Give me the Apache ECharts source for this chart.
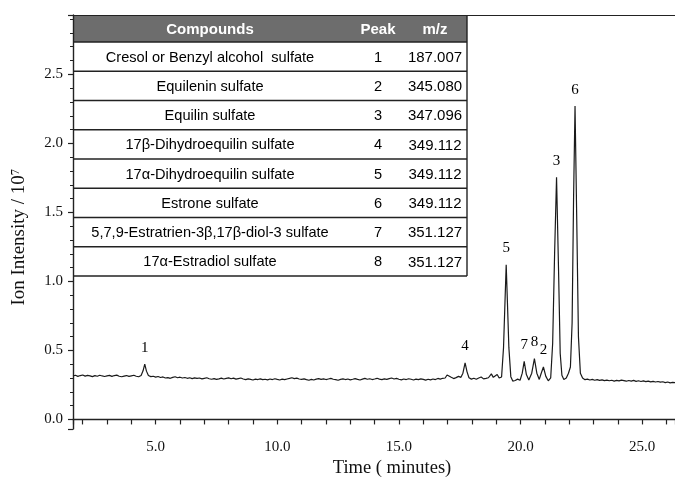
<!DOCTYPE html>
<html>
<head>
<meta charset="utf-8">
<script src="https://cdn.jsdelivr.net/npm/echarts@6/dist/echarts.min.js"></script>
<style>
  html, body { margin: 0; padding: 0; background: #fff; }
  #chart { width: 675px; height: 483px; }
</style>
</head>
<body>
<div id="chart"></div>
<script>
// table contents
const compounds = [
  'Cresol or Benzyl alcohol  sulfate',
  'Equilenin sulfate',
  'Equilin sulfate',
  '17β-Dihydroequilin sulfate',
  '17α-Dihydroequilin sulfate',
  'Estrone sulfate',
  '5,7,9-Estratrien-3β,17β-diol-3 sulfate',
  '17α-Estradiol sulfate'
]
const peakNos = ['1', '2', '3', '4', '5', '6', '7', '8']
const mzValues = ['187.007', '345.080', '347.096', '349.112', '349.112', '349.112', '351.127', '351.127']

// peak annotations (time, apex intensity)
const peakLabels = ['1', '4', '5', '7', '8', '2', '3', '6']
const peakTimes = [4.55, 17.72, 19.41, 20.15, 20.57, 20.94, 21.48, 22.24]
const peakHeights = [0.40, 0.41, 1.12, 0.42, 0.44, 0.38, 1.755, 2.27]

// chromatogram trace [time (min), intensity / 1e7]
const trace = [
  [1.6, 0.315], [1.7, 0.320], [1.8, 0.312], [1.9, 0.318], [2.0, 0.322], [2.1, 0.314], [2.2, 0.319],
  [2.3, 0.316], [2.4, 0.310], [2.5, 0.317], [2.6, 0.313], [2.7, 0.320], [2.8, 0.315], [2.9, 0.311],
  [3.0, 0.316], [3.1, 0.319], [3.2, 0.312], [3.3, 0.318], [3.4, 0.321], [3.5, 0.313], [3.6, 0.309],
  [3.7, 0.314], [3.8, 0.318], [3.9, 0.312], [4.0, 0.316], [4.1, 0.320], [4.2, 0.313], [4.3, 0.309],
  [4.4, 0.318], [4.48, 0.352], [4.55, 0.400], [4.62, 0.350], [4.7, 0.318], [4.8, 0.310], [4.9, 0.313],
  [5.0, 0.307], [5.1, 0.311], [5.2, 0.304], [5.3, 0.308], [5.4, 0.300], [5.5, 0.303], [5.6, 0.298],
  [5.7, 0.305], [5.8, 0.309], [5.9, 0.302], [6.0, 0.306], [6.1, 0.300], [6.2, 0.304], [6.3, 0.298],
  [6.4, 0.302], [6.5, 0.296], [6.6, 0.301], [6.7, 0.297], [6.8, 0.300], [6.9, 0.294], [7.0, 0.298],
  [7.1, 0.302], [7.2, 0.295], [7.3, 0.291], [7.4, 0.296], [7.5, 0.290], [7.6, 0.294], [7.7, 0.299],
  [7.8, 0.293], [7.9, 0.297], [8.0, 0.301], [8.1, 0.295], [8.2, 0.299], [8.3, 0.292], [8.4, 0.296],
  [8.5, 0.300], [8.6, 0.293], [8.7, 0.288], [8.8, 0.294], [8.9, 0.290], [9.0, 0.286], [9.1, 0.292],
  [9.2, 0.289], [9.3, 0.294], [9.4, 0.288], [9.5, 0.291], [9.6, 0.287], [9.7, 0.293], [9.8, 0.289],
  [9.9, 0.295], [10.0, 0.290], [10.1, 0.286], [10.2, 0.292], [10.3, 0.288], [10.4, 0.293], [10.5, 0.297],
  [10.6, 0.302], [10.7, 0.296], [10.8, 0.299], [10.9, 0.293], [11.0, 0.290], [11.1, 0.294], [11.2, 0.288],
  [11.3, 0.284], [11.4, 0.290], [11.5, 0.286], [11.6, 0.292], [11.7, 0.296], [11.8, 0.290], [11.9, 0.294],
  [12.0, 0.289], [12.1, 0.293], [12.2, 0.297], [12.3, 0.291], [12.4, 0.288], [12.5, 0.284], [12.6, 0.290],
  [12.7, 0.294], [12.8, 0.289], [12.9, 0.293], [13.0, 0.287], [13.1, 0.291], [13.2, 0.296], [13.3, 0.290],
  [13.4, 0.286], [13.5, 0.292], [13.6, 0.297], [13.7, 0.291], [13.8, 0.295], [13.9, 0.289], [14.0, 0.293],
  [14.1, 0.298], [14.2, 0.292], [14.3, 0.288], [14.4, 0.294], [14.5, 0.290], [14.6, 0.296], [14.7, 0.300],
  [14.8, 0.293], [14.9, 0.297], [15.0, 0.291], [15.1, 0.287], [15.2, 0.293], [15.3, 0.289], [15.4, 0.295],
  [15.5, 0.291], [15.6, 0.286], [15.7, 0.292], [15.8, 0.288], [15.9, 0.294], [16.0, 0.290], [16.1, 0.285],
  [16.2, 0.291], [16.3, 0.287], [16.4, 0.293], [16.5, 0.289], [16.6, 0.297], [16.7, 0.292], [16.8, 0.298],
  [16.9, 0.300], [16.98, 0.322], [17.05, 0.335], [17.15, 0.305], [17.25, 0.296], [17.35, 0.303], [17.45, 0.312],
  [17.55, 0.305], [17.63, 0.335], [17.72, 0.410], [17.8, 0.345], [17.88, 0.302], [17.98, 0.292], [18.08, 0.298],
  [18.18, 0.291], [18.28, 0.300], [18.38, 0.308], [18.48, 0.294], [18.58, 0.297], [18.68, 0.302], [18.8, 0.330],
  [18.88, 0.305], [18.95, 0.298], [19.04, 0.325], [19.12, 0.300], [19.22, 0.308], [19.3, 0.52], [19.36, 0.85],
  [19.41, 1.12], [19.46, 0.85], [19.52, 0.52], [19.6, 0.31], [19.68, 0.278], [19.78, 0.282], [19.88, 0.292],
  [19.98, 0.284], [20.07, 0.335], [20.15, 0.420], [20.24, 0.325], [20.34, 0.286], [20.46, 0.335], [20.57, 0.440],
  [20.67, 0.335], [20.77, 0.290], [20.85, 0.335], [20.94, 0.380], [21.04, 0.312], [21.14, 0.280], [21.24, 0.302],
  [21.32, 0.55], [21.4, 1.20], [21.48, 1.755], [21.56, 1.10], [21.63, 0.48], [21.7, 0.32], [21.78, 0.290],
  [21.88, 0.300], [21.97, 0.335], [22.05, 0.380], [22.12, 0.70], [22.18, 1.60], [22.24, 2.27], [22.31, 1.45],
  [22.38, 0.60], [22.46, 0.335], [22.55, 0.300], [22.65, 0.288], [22.75, 0.292], [22.85, 0.286], [22.95, 0.290],
  [23.05, 0.284], [23.15, 0.288], [23.25, 0.283], [23.35, 0.287], [23.45, 0.281], [23.55, 0.285], [23.65, 0.280],
  [23.75, 0.284], [23.85, 0.278], [23.95, 0.283], [24.05, 0.279], [24.15, 0.285], [24.25, 0.281], [24.35, 0.277],
  [24.45, 0.282], [24.55, 0.278], [24.65, 0.283], [24.75, 0.276], [24.85, 0.280], [24.95, 0.275], [25.05, 0.279],
  [25.15, 0.274], [25.25, 0.278], [25.35, 0.272], [25.45, 0.276], [25.55, 0.271], [25.65, 0.275], [25.75, 0.270],
  [25.85, 0.273], [25.95, 0.267], [26.05, 0.271], [26.15, 0.265], [26.25, 0.268], [26.35, 0.266]
]

const serif = '"Liberation Serif", "Times New Roman", serif'
const sans = '"Liberation Sans", Arial, sans-serif'

// table layout (pixels)
const tbl = { left: 73, top: 15, width: 394, headH: 27, rowH: 29.25, colC: 210, colP: 378, colM: 435 }

const buildTable = () => {
  const els = []
  const bottom = tbl.top + tbl.headH + tbl.rowH * compounds.length
  els.push({ type: 'rect', shape: { x: tbl.left, y: tbl.top, width: tbl.width, height: bottom - tbl.top }, style: { fill: '#fff' } })
  els.push({ type: 'rect', shape: { x: tbl.left, y: tbl.top, width: tbl.width, height: tbl.headH }, style: { fill: '#6d6d6d' } })
  const heads = [['Compounds', tbl.colC], ['Peak', tbl.colP], ['m/z', tbl.colM]]
  heads.forEach(([t, x]) => {
    els.push({ type: 'text', x, y: tbl.top + tbl.headH / 2 + 1, style: { text: t, fill: '#fff', font: 'bold 15px ' + sans, align: 'center', verticalAlign: 'middle' } })
  })
  compounds.forEach((c, i) => {
    const y0 = tbl.top + tbl.headH + tbl.rowH * i
    els.push({ type: 'line', shape: { x1: tbl.left, y1: y0, x2: tbl.left + tbl.width, y2: y0 }, style: { stroke: '#222', lineWidth: 1.6 } })
    const yc = y0 + tbl.rowH / 2 + 1
    els.push({ type: 'text', x: tbl.colC, y: yc, style: { text: c, fill: '#000', font: '14.6px ' + sans, align: 'center', verticalAlign: 'middle' } })
    els.push({ type: 'text', x: tbl.colP, y: yc, style: { text: peakNos[i], fill: '#000', font: '14.6px ' + sans, align: 'center', verticalAlign: 'middle' } })
    els.push({ type: 'text', x: tbl.colM, y: yc, style: { text: mzValues[i], fill: '#000', font: '15px ' + sans, align: 'center', verticalAlign: 'middle' } })
  })
  els.push({ type: 'line', shape: { x1: tbl.left, y1: bottom, x2: tbl.left + tbl.width, y2: bottom }, style: { stroke: '#222', lineWidth: 1.6 } })
  els.push({ type: 'line', shape: { x1: tbl.left + tbl.width, y1: tbl.top, x2: tbl.left + tbl.width, y2: bottom }, style: { stroke: '#222', lineWidth: 1.4 } })
  return els
}

const chart = echarts.init(document.getElementById('chart'), null, { renderer: 'canvas' })

const option = {
  backgroundColor: '#fff',
  animation: false,
  grid: { left: 73, right: 0, top: 15, bottom: 50 },
  xAxis: [{
    type: 'value',
    min: 1.6,
    max: 26.35,
    name: 'Time ( minutes)',
    nameLocation: 'middle',
    nameGap: 27,
    nameTextStyle: { fontFamily: serif, fontSize: 18.5, color: '#111', padding: [0, 0, 0, 36] },
    axisLine: { lineStyle: { color: '#222', width: 1.4 } },
    axisTick: { length: 5, lineStyle: { color: '#222', width: 1.2 } },
    minorTick: { show: true, splitNumber: 5, length: 5, lineStyle: { color: '#222', width: 1.2 } },
    splitLine: { show: false },
    axisLabel: {
      showMinLabel: false, showMaxLabel: false, margin: 10,
      fontFamily: serif, fontSize: 15, color: '#111',
      formatter: (v) => v.toFixed(1)
    }
  }, {
    type: 'value',
    position: 'top',
    min: 1.6,
    max: 26.35,
    axisLine: { show: true, lineStyle: { color: '#222', width: 1.2 } },
    axisTick: { show: false },
    axisLabel: { show: false },
    splitLine: { show: false }
  }],
  yAxis: {
    type: 'value',
    min: -0.07,
    max: 2.93,
    name: 'Ion Intensity / 10⁷',
    nameLocation: 'middle',
    nameGap: 44,
    nameTextStyle: { fontFamily: serif, fontSize: 19, color: '#111', padding: [0, 30, 0, 0] },
    axisLine: { show: true, lineStyle: { color: '#222', width: 1.4 } },
    axisTick: { show: true, length: 5, lineStyle: { color: '#222', width: 1.2 } },
    minorTick: { show: true, splitNumber: 5, length: 3, lineStyle: { color: '#222', width: 1 } },
    splitLine: { show: false },
    axisLabel: {
      showMinLabel: false, showMaxLabel: false, margin: 10,
      fontFamily: serif, fontSize: 15, color: '#111',
      formatter: (v) => v.toFixed(1)
    }
  },
  graphic: { elements: buildTable() },
  series: [{
    type: 'line',
    data: trace,
    showSymbol: false,
    lineStyle: { color: '#1a1a1a', width: 1.2 },
    z: 2
  }, {
    type: 'scatter',
    data: peakTimes.map((t, i) => [t, peakHeights[i]]),
    symbolSize: 0,
    itemStyle: { opacity: 1 },
    label: {
      show: true,
      position: 'top',
      distance: 9,
      formatter: (p) => peakLabels[p.dataIndex],
      fontFamily: serif,
      fontSize: 15,
      color: '#000'
    },
    z: 3
  }]
}

chart.setOption(option)
</script>
</body>
</html>
